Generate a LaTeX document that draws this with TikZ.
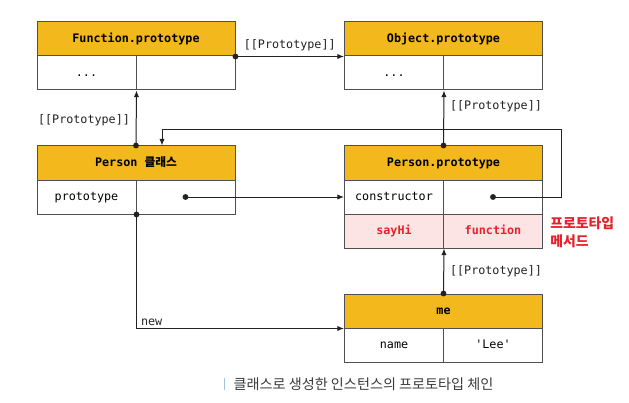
\documentclass[tikz,border=0pt]{standalone}
\usepackage{fontspec}
\setmonofont{DejaVu Sans Mono}
\newfontfamily\kr{Noto Sans CJK KR}
\usetikzlibrary{arrows.meta}
\definecolor{hdr}{HTML}{F2B81C}
\definecolor{pinkfill}{HTML}{FDE4E4}
\definecolor{redtxt}{HTML}{E5222B}
\definecolor{edge}{HTML}{505050}
\definecolor{linec}{HTML}{222222}
\definecolor{captc}{HTML}{3A3A3A}
\definecolor{barc}{HTML}{9CC8E8}
\begin{document}
\begin{tikzpicture}[x=0.75pt,y=-0.75pt,
  hdrbox/.style={draw=edge, line width=0.75pt, fill=hdr, minimum width=148.5pt, minimum height=25.5pt, inner sep=0pt, text height=6.6pt, text depth=1.6pt, font=\ttfamily\bfseries\fontsize{8.8}{10}\selectfont},
  cellbox/.style={draw=edge, line width=0.75pt, fill=white, minimum width=74.25pt, minimum height=25.5pt, inner sep=0pt, text height=6.6pt, text depth=1.6pt, font=\ttfamily\fontsize{8.8}{10}\selectfont},
  pinkcell/.style={cellbox, fill=pinkfill, text=redtxt, font=\ttfamily\bfseries\fontsize{8.8}{10}\selectfont},
  link/.style={draw=linec, line width=0.75pt, -{Latex[length=5pt,width=4pt]}},
  dotmark/.style={fill=linec},
  lbl/.style={font=\ttfamily\fontsize{8.8}{10}\selectfont, text=linec, inner sep=1pt}
]
\useasboundingbox (0,0) rectangle (629,403);

% Function.prototype
\node[hdrbox] (fph) at (136,39) {Function.prototype};
\node[cellbox] (fpl) at (86.5,73) {...};
\node[cellbox] (fpr) at (185.5,73) {};
% Object.prototype
\node[hdrbox] (oph) at (443.5,39) {Object.prototype};
\node[cellbox] (opl) at (394,73) {...};
\node[cellbox] (opr) at (493,73) {};
% Person class
\node[hdrbox] (pch) at (136,163) {Person {\kr\bfseries 클래스}};
\node[cellbox] (pcl) at (86.5,197) {prototype};
\node[cellbox] (pcr) at (185.5,197) {};
% Person.prototype
\node[hdrbox] (pph) at (443.5,163) {Person.prototype};
\node[cellbox] (ppa) at (394,197) {constructor};
\node[cellbox] (ppb) at (493,197) {};
\node[pinkcell] (ppc) at (394,231) {sayHi};
\node[pinkcell] (ppd) at (493,231) {function};
% me
\node[hdrbox] (meh) at (443.5,311) {me};
\node[cellbox] (mel) at (394,345) {name};
\node[cellbox] (mer) at (493,345) {'Lee'};

% connectors
\coordinate (cr) at (561,130);
\draw[link] (fph.south east) -- node[lbl, above=3pt] {[[Prototype]]} (oph.south west);
\fill[dotmark] (fph.south east) circle (2.2pt);

\draw[link] (pch.north) -- (fpl.south east);
\fill[dotmark] (pch.north) circle (2.2pt);
\node[lbl] (l2) at (84,120) {[[Prototype]]};

\draw[link] (pph.north) -- (opl.south east);
\fill[dotmark] (pph.north) circle (2.2pt);
\node[lbl] (l3) at (496,106) {[[Prototype]]};

\draw[link] (ppb.center) -| (cr) -| ([xshift=19.5pt]pch.north);
\fill[dotmark] (ppb.center) circle (2.2pt);

\draw[link] (pcr.center) -- (ppa.west);
\fill[dotmark] (pcr.center) circle (2.2pt);

\draw[link] (meh.north) -- (ppc.south east);
\fill[dotmark] (meh.north) circle (2.2pt);
\node[lbl] (l4) at (496,271) {[[Prototype]]};

\draw[link] (pcl.south east) |- node[lbl, pos=0.5, anchor=south west, xshift=2pt, yshift=1pt] {new} (meh.south west);
\fill[dotmark] (pcl.south east) circle (2.2pt);

% method label
\node[anchor=west, align=left, text=redtxt, font=\kr\bfseries\fontsize{10.4}{13.5}\selectfont, inner sep=0pt] (ml) at (550,232) {프로토타입\\메서드};

% caption
\fill[barc] (223.5,378) rectangle (224.5,390);
\node[font=\kr\fontsize{10.6}{12}\selectfont, text=captc, inner sep=0pt] (cap) at (363.5,384) {클래스로 생성한 인스턴스의 프로토타입 체인};
\end{tikzpicture}
\end{document}
